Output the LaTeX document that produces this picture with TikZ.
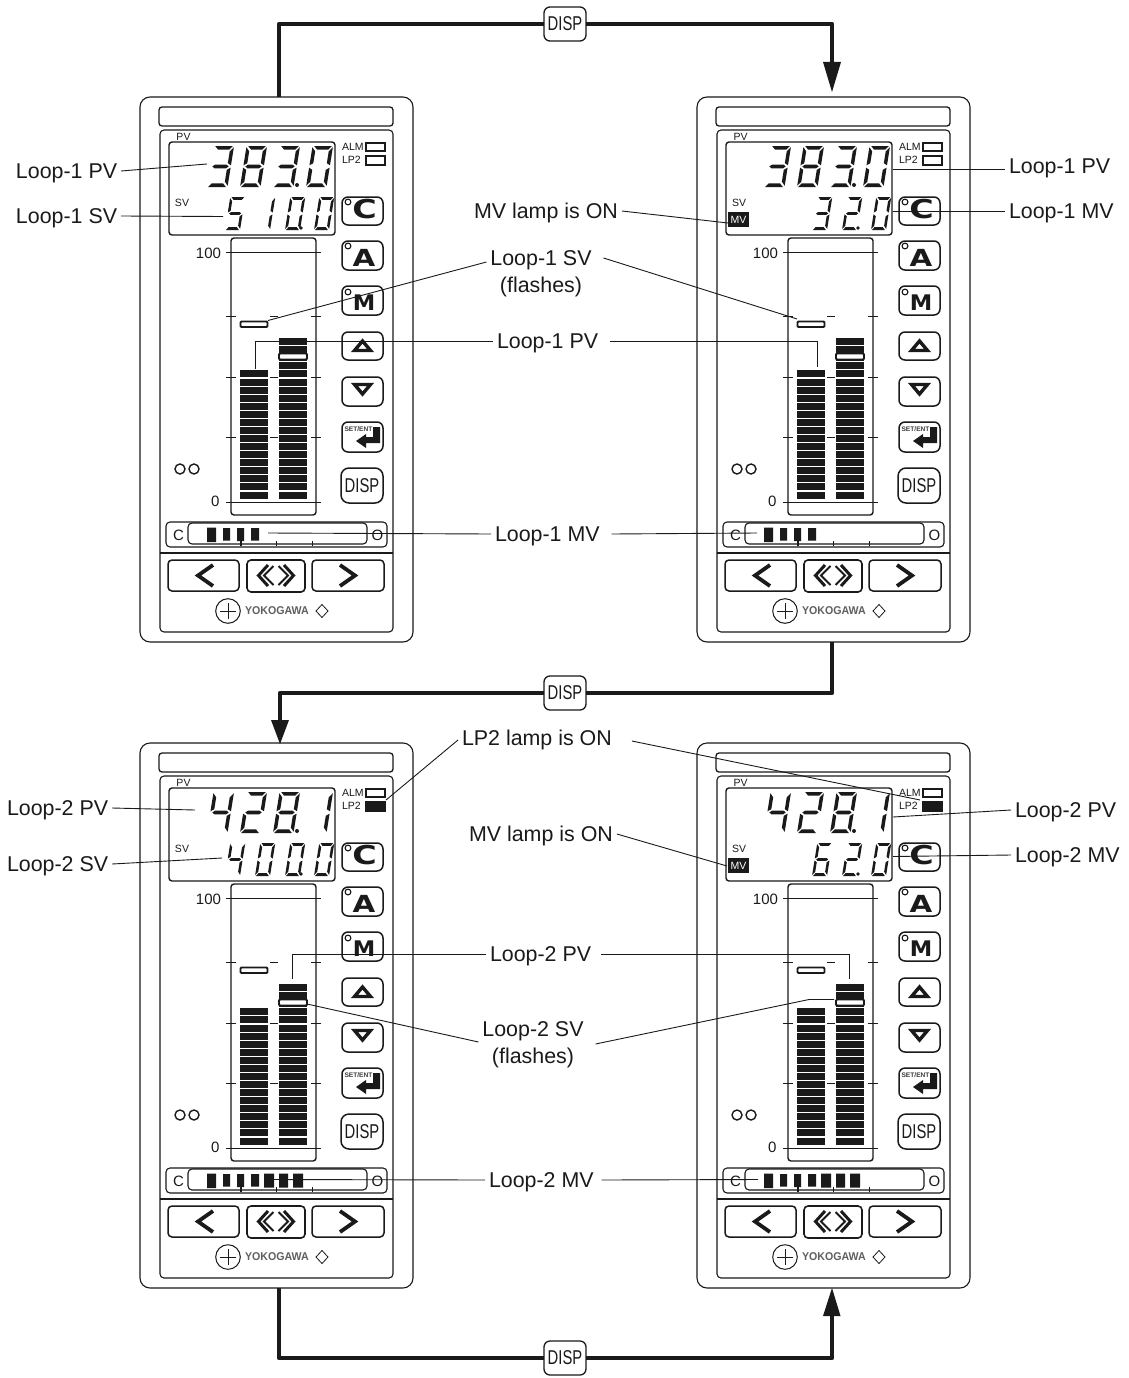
\documentclass[tikz,border=0pt]{standalone}
\usepackage{fontspec}
\setmainfont{Liberation Sans}
\newfontfamily\btnfont{DejaVu Sans}
\newcommand\fsz[1]{\fontsize{#1}{#1}\selectfont}
\definecolor{ink}{HTML}{1A1A1A}
\tikzset{
  plain/.style={inner sep=0pt,outer sep=0pt,text=ink},
  lbl/.style={plain,outer sep=4pt,font=\fsz{21.4},text height=15pt,text depth=0pt},
  lbltwo/.style={plain,outer sep=4pt,font=\fsz{21.4},align=center},
  ann/.style={draw=ink,line width=0.9pt},
  panelline/.style={draw=ink,line width=1.1pt},
  btnbox/.style={draw=ink,line width=1.5pt,rounded corners=6pt,fill=white},
  flow/.style={draw=ink,line width=4.8pt,line join=round},
  flowhead/.style={fill=ink,draw=none},
  dispbox/.style={plain,draw=ink,fill=white,line width=1.3pt,rounded corners=6pt,minimum width=42pt,minimum height=34pt,font=\fsz{20}},
  barseg/.style={fill=ink,draw=none},
  tick/.style={draw=ink,line width=0.9pt},
  strokeglyph/.style={draw=ink,line width=3.2pt,line join=miter},
}
% seven segments, unit square
\newcommand\sA{\fill[ink] (.08,1)--(.94,1)--(.79,.91)--(.25,.91)--cycle;}
\newcommand\sD{\fill[ink] (.06,0)--(.92,0)--(.75,.09)--(.21,.09)--cycle;}
\newcommand\sG{\fill[ink] (.1,.5)--(.22,.545)--(.78,.545)--(.9,.5)--(.78,.455)--(.22,.455)--cycle;}
\newcommand\sF{\fill[ink] (0,.97)--(.17,.87)--(.17,.58)--(0,.53)--cycle;}
\newcommand\sE{\fill[ink] (0,.03)--(.17,.13)--(.17,.42)--(0,.47)--cycle;}
\newcommand\sB{\fill[ink] (1,.97)--(.83,.87)--(.83,.58)--(1,.53)--cycle;}
\newcommand\sC{\fill[ink] (1,.03)--(.83,.13)--(.83,.42)--(1,.47)--cycle;}
\newcommand\dZero{\sA\sB\sC\sD\sE\sF}
\newcommand\dOne{\sB\sC}
\newcommand\dTwo{\sA\sB\sG\sE\sD}
\newcommand\dThree{\sA\sB\sG\sC\sD}
\newcommand\dFour{\sF\sG\sB\sC}
\newcommand\dFive{\sA\sF\sG\sC\sD}
\newcommand\dSix{\sA\sF\sG\sE\sD\sC}
\newcommand\dEight{\sA\sB\sC\sD\sE\sF\sG}
% big row digit: left x, segments
\newcommand\bigdig[2]{\begin{scope}[cm={20.5,0,-6.56,-41,(#1,187)}]#2\end{scope}}
\newcommand\smalldig[2]{\begin{scope}[cm={15,0,-5.28,-33,(#1,230)}]#2\end{scope}}
\newcommand\bigdot{\fill[ink] (297,185) circle (2);}
\newcommand\smalldot{\fill[ink] (301,228) circle (1.8);}
% panel: #1 name, #2 dx, #3 dy, #4 left segs, #5 blocks 4 or 7, #6 lp2 fill, #7 content
\newcommand\devicepanel[7]{%
\begin{scope}[shift={(#2,#3)}]
  \draw[panelline,rounded corners=10pt] (140,97) rectangle (413,642);
  \draw[panelline,rounded corners=3pt,line width=1.3pt] (159,107) rectangle (393,126);
  \draw[panelline,rounded corners=4pt] (160,130) rectangle (393,632);
  \draw[panelline] (160,553) -- (393,553);
  \draw[panelline,line width=1.4pt,rounded corners=3pt,fill=white] (169,142) rectangle (335,235);
  \node[plain,font=\fsz{10.5},fill=white,inner sep=0.5pt] (#1pv) at (183.5,137) {PV};
  \node[plain,font=\fsz{10.5}] (#1sv) at (182,203) {SV};
  \node[plain,font=\fsz{10.5},anchor=west] (#1alm) at (342,147) {ALM};
  \node[plain,font=\fsz{10.5},anchor=west] (#1lptwo) at (342,160) {LP2};
  \draw[panelline] (366,143) rectangle (385,151);
  \draw[panelline,fill=#6] (366,156) rectangle (385,165);
  % buttons
  \draw[btnbox] (342,197) rectangle (383,225);
  \draw[btnbox] (342,241) rectangle (383,270);
  \draw[btnbox] (342,286) rectangle (383,315);
  \draw[btnbox] (342,332) rectangle (383,360);
  \draw[btnbox] (342,377) rectangle (383,406);
  \draw[btnbox] (342,422) rectangle (383,452);
  \draw[btnbox,rounded corners=8pt] (341,468) rectangle (383,503);
  \node[plain,font={\btnfont\bfseries\fsz{26}}] (#1btnc) at (364.5,209.5) {\scalebox{1.28}[1]{C}};
  \node[plain,font={\btnfont\bfseries\fsz{23.5}}] (#1btna) at (364,258) {\scalebox{1.25}[1]{A}};
  \node[plain,font={\btnfont\bfseries\fsz{21.5}}] (#1btnm) at (364,303) {\scalebox{1.05}[1]{M}};
  \foreach \yy in {202,246,292}{\draw[ink,line width=1.1pt,fill=white] (348,\yy) circle (2.9);}
  \draw[ink,line width=3.4pt,fill=white,line join=miter] (354.5,350.5) -- (370.5,350.5) -- (362.5,341) -- cycle;
  \draw[ink,line width=3.4pt,fill=white,line join=miter] (354.5,384.5) -- (370.5,384.5) -- (362.5,394) -- cycle;
  \fill[ink] (373,427) -- (380,427) -- (380,443) -- (366,443) -- (366,448) -- (356,441) -- (366,434) -- (366,437) -- (373,437) -- cycle;
  \node[plain,font=\fsz{6.6}\bfseries,text=ink!85,fill=white,inner sep=0.3pt] (#1setent) at (358.5,429) {SET/ENT};
  \node[plain,font=\fsz{20}] (#1disp) at (362,486) {\scalebox{.74}[1]{DISP}};
  % bar frame and scale
  \draw[panelline,line width=1.4pt,rounded corners=3pt] (231,238) rectangle (316,515);
  \node[plain,font=\fsz{15},anchor=east] (#1hundred) at (221,253) {100};
  \node[plain,font=\fsz{15},anchor=east] (#1zero) at (219.5,501.5) {0};
  \draw[tick] (226,252) -- (321,252);
  \foreach \yy in {316,377,437}{
    \draw[tick] (226,\yy) -- (236,\yy);
    \draw[tick] (270,\yy) -- (278,\yy);
    \draw[tick] (311,\yy) -- (321,\yy);
  }
  \foreach \i in {1,...,#4}{\fill[barseg] (240,{498.5-8.07*\i+1.1}) rectangle (268,{498.5-8.07*(\i-1)});}
  \foreach \i in {1,...,20}{\fill[barseg] (279,{498.5-8.07*\i+1.1}) rectangle (307,{498.5-8.07*(\i-1)});}
  \draw[tick] (226,502) -- (321,502);
  \draw[ink,line width=1.8pt,fill=white,rounded corners=1pt] (240.5,321.5) rectangle (267.5,327);
  \draw[ink,line width=1.8pt,fill=white,rounded corners=1pt] (279,353.5) rectangle (307,359.5);
  \draw[ink,line width=1.4pt] (180,469) circle (5) (194,469) circle (5);
  % MV bar
  \draw[panelline,rounded corners=4pt] (166,522) rectangle (387,547);
  \draw[panelline,rounded corners=4pt] (188,523) rectangle (367,544);
  \node[plain,font=\fsz{15}] (#1cc) at (178.5,535.5) {C};
  \node[plain,font=\fsz{15}] (#1oo) at (377.5,535.5) {O};
  \fill[ink] (207,527.5) rectangle (216,542) (223,528) rectangle (230,540.5) (237,528) rectangle (244,541) (251,528) rectangle (259,540.5);
  \ifnum#5>4 \fill[ink] (264,527.5) rectangle (274,541.5) (279,527.5) rectangle (288,541.5) (293,527.5) rectangle (303,541.5);\fi
  \draw[tick,line width=1.3pt] (241,540) -- (241,546);
  \draw[tick] (276,541) -- (276,546);
  \draw[tick] (312,541) -- (312,546);
  % bottom buttons
  \draw[btnbox,rounded corners=4pt] (168,560) rectangle (239,591);
  \draw[btnbox,rounded corners=4pt,line width=1.6pt] (247,560) rectangle (305,592);
  \draw[btnbox,rounded corners=4pt] (312,560) rectangle (384,591);
  \draw[strokeglyph,line width=3.8pt] (213,565) -- (198,575.5) -- (213,586);
  \draw[strokeglyph,line width=3.8pt] (340,565) -- (355,575.5) -- (340,586);
  \draw[strokeglyph,line width=3pt] (268,565) -- (258.5,575.5) -- (268,586);
  \draw[strokeglyph,line width=2pt] (273.5,566) -- (264,575.5) -- (273.5,585);
  \draw[strokeglyph,line width=3pt] (284,565) -- (293.5,575.5) -- (284,586);
  \draw[strokeglyph,line width=2pt] (278.5,566) -- (288,575.5) -- (278.5,585);
  \draw[ink,line width=1pt] (228,611) circle (12.3);
  \draw[ink,line width=0.8pt] (220,611) -- (236,611) (228,603) -- (228,619);
  \node[plain,font=\fsz{11.3}\bfseries,anchor=west,text=ink!70] (#1yoko) at (245,611) {\scalebox{.94}[1]{YOKOGAWA}};
  \draw[ink,line width=0.8pt] (322,604.5) -- (328,611) -- (322,617.5) -- (316,611) -- cycle;
  #7
\end{scope}}
\begin{document}
\begin{tikzpicture}[x=1pt,y=-1pt]
\useasboundingbox (0,0) rectangle (1128,1378);
\fill[white] (0,0) rectangle (1128,1378);
% ---- panels
\devicepanel{tl}{0}{0}{16}{4}{white}{%
  \bigdig{207}{\dThree}\bigdig{240}{\dEight}\bigdig{273}{\dThree}\bigdig{306}{\dZero}\bigdot
  \smalldig{225}{\dFive}\smalldig{255}{\dOne}\smalldig{285}{\dZero}\smalldig{314}{\dZero}\smalldot}
\devicepanel{tr}{557}{0}{16}{4}{white}{%
  \bigdig{207}{\dThree}\bigdig{240}{\dEight}\bigdig{273}{\dThree}\bigdig{306}{\dZero}\bigdot
  \smalldig{255}{\dThree}\smalldig{285}{\dTwo}\smalldig{314}{\dZero}\smalldot
  \fill[ink] (171,212) rectangle (192,227);
  \node[plain,font=\fsz{10.5},text=white] (trmv) at (181.5,220) {MV};}
\devicepanel{bl}{0}{646}{17}{7}{ink}{%
  \bigdig{207}{\dFour}\bigdig{240}{\dTwo}\bigdig{273}{\dEight}\bigdig{306}{\dOne}\bigdot
  \smalldig{225}{\dFour}\smalldig{255}{\dZero}\smalldig{285}{\dZero}\smalldig{314}{\dZero}\smalldot}
\devicepanel{br}{557}{646}{17}{7}{ink}{%
  \bigdig{207}{\dFour}\bigdig{240}{\dTwo}\bigdig{273}{\dEight}\bigdig{306}{\dOne}\bigdot
  \smalldig{255}{\dSix}\smalldig{285}{\dTwo}\smalldig{314}{\dZero}\smalldot
  \fill[ink] (171,212) rectangle (192,227);
  \node[plain,font=\fsz{10.5},text=white] (brmv) at (181.5,220) {MV};}
% ---- flow arrows
\node[dispbox] (dispA) at (565,24) {\scalebox{.74}[1]{DISP}};
\node[dispbox] (dispB) at (565,693) {\scalebox{.74}[1]{DISP}};
\node[dispbox] (dispC) at (565,1358) {\scalebox{.74}[1]{DISP}};
\coordinate (aStart) at (279,97);
\coordinate (aEnd) at (832,64);
\coordinate (bStart) at (832,642);
\coordinate (bEnd) at (280,722);
\coordinate (cStart) at (279,1288);
\coordinate (cEnd) at (832,1316);
\draw[flow] (aStart) |- (dispA.west);
\draw[flow] (dispA.east) -| (aEnd);
\draw[flow] (bStart) |- (dispB.east);
\draw[flow] (dispB.west) -| (bEnd);
\draw[flow] (cStart) |- (dispC.west);
\draw[flow] (dispC.east) -| (cEnd);
\fill[flowhead] (823,62) -- (841,62) -- (832,92) -- cycle;
\fill[flowhead] (271,720) -- (289,720) -- (280,744) -- cycle;
\fill[flowhead] (823,1316) -- (840.5,1316) -- (832,1288) -- cycle;
% ---- labels
\node[lbl,anchor=west] (lA) at (12,171) {Loop-1 PV};
\node[lbl,anchor=west] (lB) at (12,216) {Loop-1 SV};
\node[lbl,anchor=west] (lC) at (1005,166) {Loop-1 PV};
\node[lbl,anchor=west] (lD) at (1005,211) {Loop-1 MV};
\node[lbl,anchor=west] (lE) at (470,211) {MV lamp is ON};
\node[lbltwo] (lF) at (541,274) {Loop-1 SV\\[6pt](flashes)};
\node[lbl,anchor=west] (lG) at (493,341) {Loop-1 PV};
\node[lbl,anchor=west] (lH) at (491,534) {Loop-1 MV};
\node[lbl,anchor=west] (lI) at (458,738) {LP2 lamp is ON};
\node[lbl,anchor=west] (lJ) at (465,834) {MV lamp is ON};
\node[lbl,anchor=west] (lK) at (3,808) {Loop-2 PV};
\node[lbl,anchor=west] (lL) at (3,864) {Loop-2 SV};
\node[lbl,anchor=west] (lM) at (1011,810) {Loop-2 PV};
\node[lbl,anchor=west] (lN) at (1011,855) {Loop-2 MV};
\node[lbl,anchor=west] (lO) at (486,954) {Loop-2 PV};
\node[lbltwo] (lP) at (533,1045) {Loop-2 SV\\[6pt](flashes)};
\node[lbl,anchor=west] (lQ) at (485,1180) {Loop-2 MV};
% ---- annotation ends
\coordinate (eA) at (207,164);
\coordinate (eB) at (223,216.5);
\coordinate (eC) at (893,169);
\coordinate (eD) at (893,211);
\coordinate (eE) at (728,223);
\coordinate (eFl) at (268,320.5);
\coordinate (eFr) at (797,319);
\coordinate (eGl) at (255,369);
\coordinate (eGr) at (817,367);
\coordinate (eHl) at (268,533);
\coordinate (eHr) at (757,533);
\coordinate (eIl) at (386,800);
\coordinate (eIr) at (920,800);
\coordinate (eJ) at (727,866);
\coordinate (eK) at (195,810);
\coordinate (eL) at (222,858);
\coordinate (eM) at (893,817);
\coordinate (eN) at (893,856.5);
\coordinate (eOl) at (292.5,979);
\coordinate (eOr) at (849,979);
\coordinate (ePl) at (307,1004);
\coordinate (ePm) at (809,999.5);
\coordinate (ePr) at (834,999.5);
\coordinate (eQl) at (274,1179.5);
\coordinate (eQr) at (758,1179.5);
% ---- annotation lines
\draw[ann] (lA.east) -- (eA);
\draw[ann] (lB.east) -- (eB);
\draw[ann] (lC.west |- eC) -- (eC);
\draw[ann] (lD.west) -- (eD);
\draw[ann] (lE.east) -- (eE);
\draw[ann] ([yshift=12pt]lF.west) -- (eFl);
\draw[ann] ([xshift=8pt,yshift=16pt]lF.east) -- (eFr);
\draw[ann] (lG.west) -| (eGl);
\draw[ann] (lG.east) ++(8,0) -| (eGr);
\draw[ann] (lH.west) -- (eHl);
\draw[ann] (lH.east) ++(8,0) -- (eHr);
\draw[ann] (lI.west) ++(0,2) -- (eIl);
\draw[ann] (lI.east) ++(16,3) -- (eIr);
\draw[ann] (lJ.east) -- (eJ);
\draw[ann] (lK.east) -- (eK);
\draw[ann] (lL.east) -- (eL);
\draw[ann] (lM.west) -- (eM);
\draw[ann] (lN.west) -- (eN);
\draw[ann] (lO.west) -| (eOl);
\draw[ann] (lO.east) ++(6,0) -| (eOr);
\draw[ann] ([yshift=3pt]lP.west) -- (ePl);
\draw[ann] ([xshift=8pt,yshift=1pt]lP.east) -- (ePm) -- (ePr);
\draw[ann] (lQ.west) -- (eQl);
\draw[ann] (lQ.east) ++(4,0) -- (eQr);
\end{tikzpicture}
\end{document}
